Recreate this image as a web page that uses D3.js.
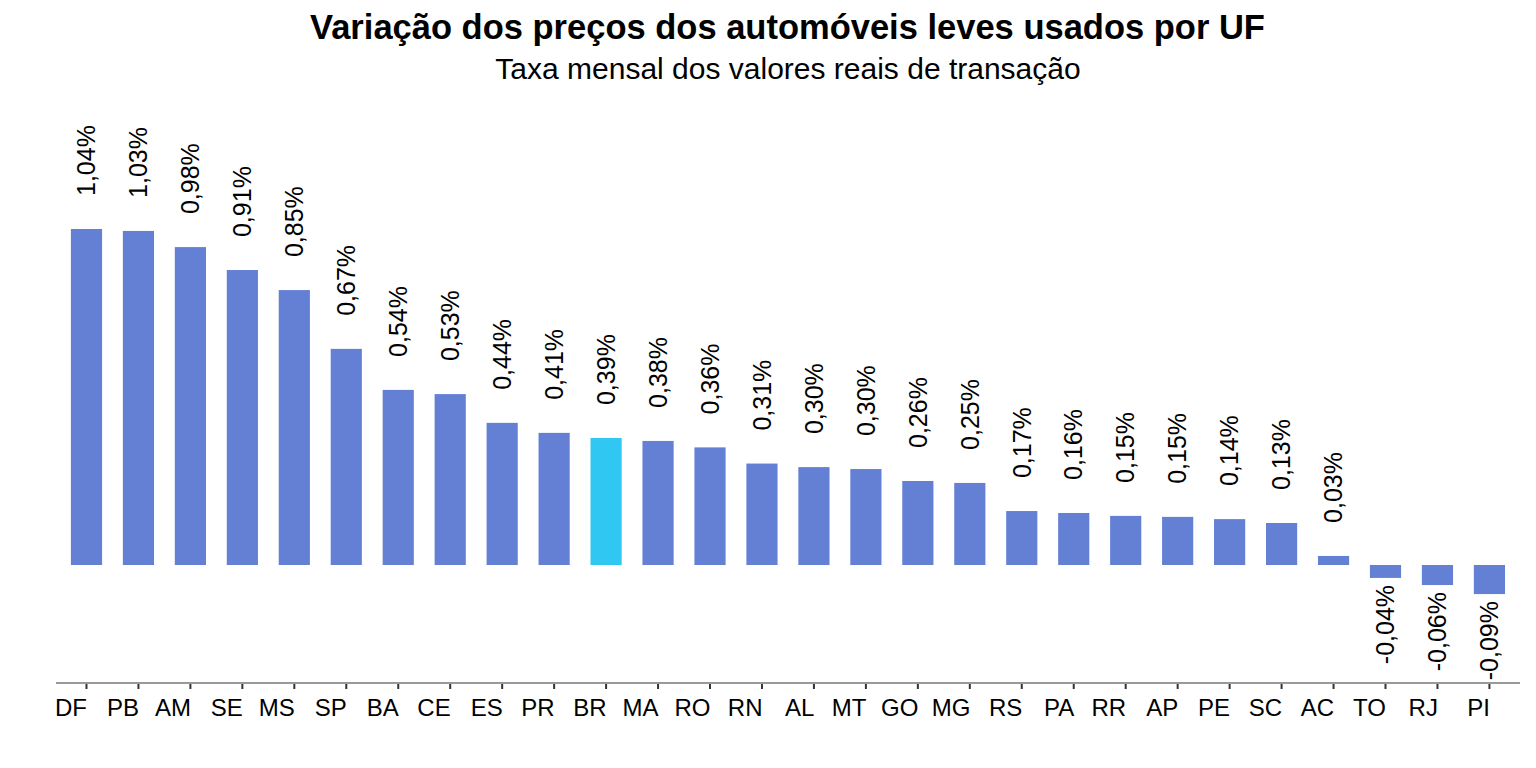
<!DOCTYPE html>
<html>
<head>
<meta charset="utf-8">
<script src="https://cdn.jsdelivr.net/npm/d3@7"></script>
<style>
  body { margin: 0; background: #fff; }
  svg { font-family: "Liberation Sans", Arial, sans-serif; }
</style>
</head>
<body>
<svg id="chart" width="1536" height="768"></svg>
<script>
// dados
var ufs = ["DF","PB","AM","SE","MS","SP","BA","CE","ES","PR","BR","MA","RO","RN",
           "AL","MT","GO","MG","RS","PA","RR","AP","PE","SC","AC","TO","RJ","PI"];
var taxas = [1.040, 1.034, 0.984, 0.913, 0.851, 0.669, 0.542, 0.529, 0.440, 0.409,
             0.393, 0.384, 0.364, 0.314, 0.303, 0.297, 0.260, 0.254, 0.167, 0.161,
             0.152, 0.149, 0.142, 0.130, 0.028, -0.040, -0.062, -0.090];
var destaque = ["BR"];

var title = "Variação dos preços dos automóveis leves usados por UF",
    subtitle = "Taxa mensal dos valores reais de transação";

var svg = d3.select("#chart"),
    axisLeft = 56, axisRight = 1520, axisY = 683;

var x = d3.scaleBand()
  .domain(ufs)
  .range([60.5, 1515.4])
  .paddingInner(0.4)
  .paddingOuter(0.2);

var y = d3.scaleLinear()
  .domain([0, 1.04])
  .range([565, 229]);

var fmt = function (v) { return d3.format(".2f")(v).replace(".", ",").replace("−", "-") + "%"; };

var data = ufs.map(function (d, i) { return { uf: d, v: taxas[i] }; });

// títulos
svg.append("text")
  .attr("x", 787.5).attr("y", 39)
  .attr("text-anchor", "middle")
  .attr("font-size", 34.5).attr("font-weight", "bold")
  .text(title);

svg.append("text")
  .attr("x", 788).attr("y", 79)
  .attr("text-anchor", "middle")
  .attr("font-size", 30)
  .text(subtitle);

// barras
svg.append("g").selectAll("rect")
  .data(data).enter().append("rect")
  .attr("x", function (d) { return x(d.uf); })
  .attr("width", x.bandwidth())
  .attr("y", function (d) { return Math.min(y(d.v), y(0)); })
  .attr("height", function (d) { return Math.abs(y(d.v) - y(0)); })
  .attr("fill", function (d) { return destaque.indexOf(d.uf) >= 0 ? "#30C8F2" : "#6380D5"; });

// rótulos
svg.append("g").selectAll("text")
  .data(data).enter().append("text")
  .attr("transform", function (d) {
    var cx = x(d.uf) + x.bandwidth() / 2,
        py = d.v >= 0 ? y(d.v) - 33 : y(d.v) + 7;
    return "translate(" + cx + "," + py + ") rotate(-90)";
  })
  .attr("dy", "0.35em")
  .attr("text-anchor", function (d) { return d.v >= 0 ? "start" : "end"; })
  .attr("font-size", 25)
  .text(function (d) { return fmt(d.v); });

// eixo x
var gx = svg.append("g")
  .attr("transform", "translate(0," + axisY + ")")
  .call(d3.axisBottom(x).tickSize(6).tickPadding(10).tickSizeOuter(0));

gx.select(".domain").remove();
gx.selectAll(".tick line").attr("stroke", "#333").attr("stroke-width", 2);
gx.selectAll(".tick text")
  .attr("x", 0.5)
  .attr("text-anchor", "end")
  .attr("font-size", 24)
  .attr("font-family", "Liberation Sans, Arial, sans-serif")
  .attr("fill", "#000");

svg.append("line")
  .attr("x1", axisLeft).attr("x2", axisRight)
  .attr("y1", axisY).attr("y2", axisY)
  .attr("stroke", "#999").attr("stroke-width", 2);
</script>
</body>
</html>
